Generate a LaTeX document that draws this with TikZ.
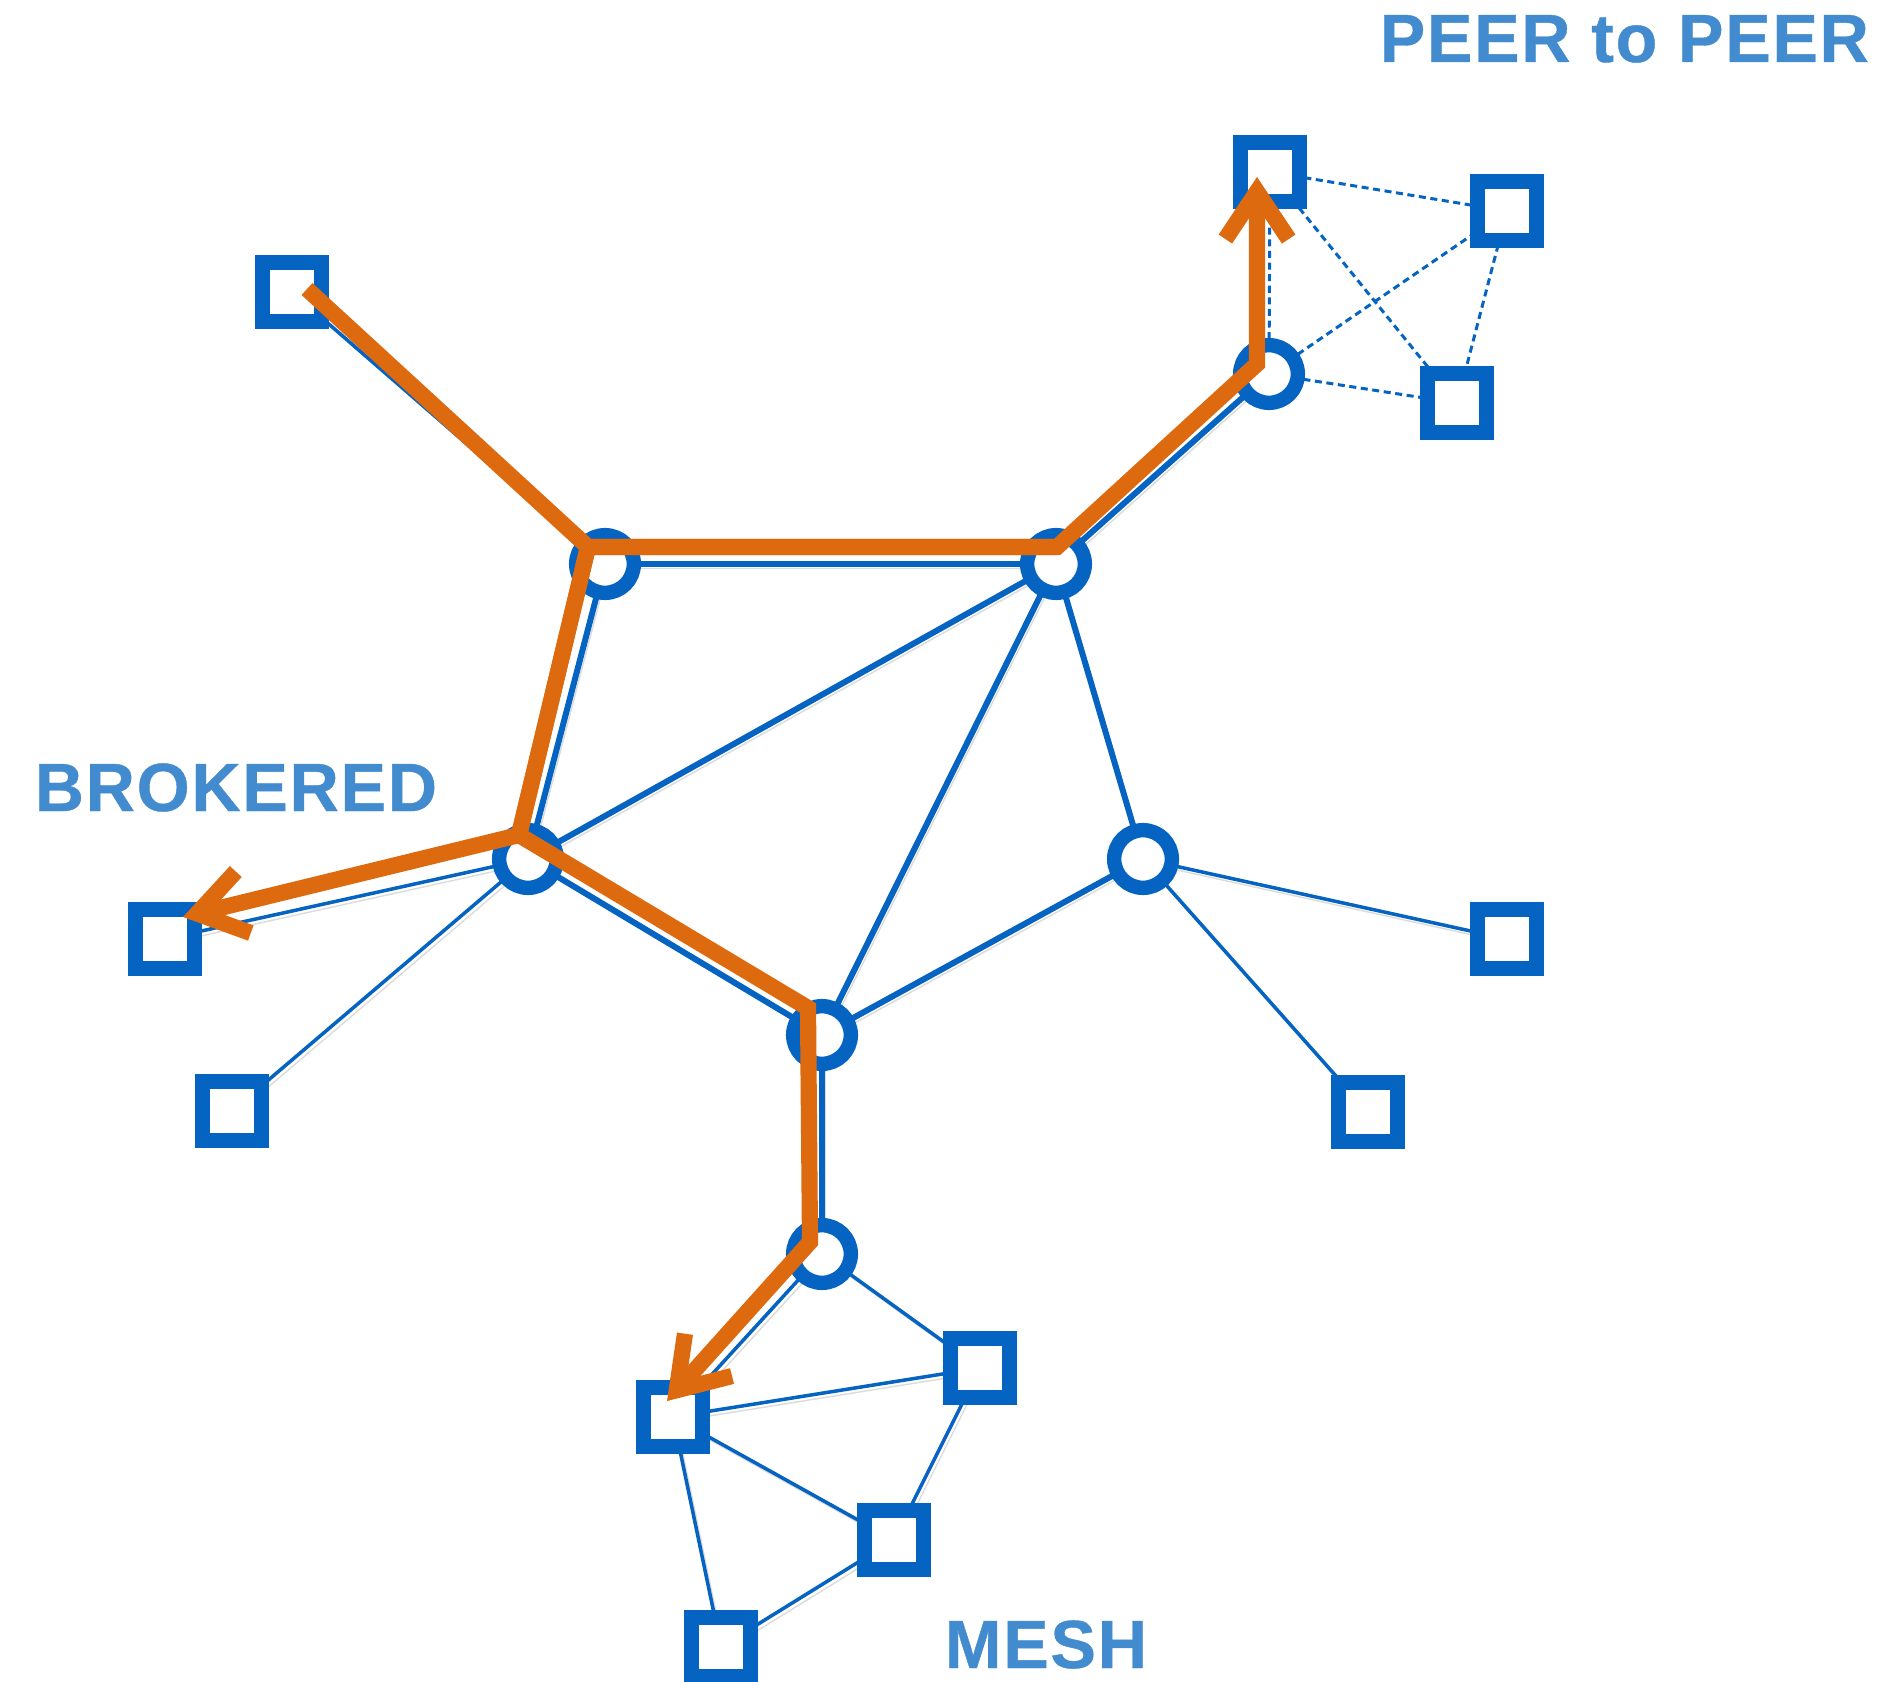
\documentclass[tikz,border=0pt]{standalone}
\usepackage{fontspec}
\setmainfont{Liberation Sans}
\usetikzlibrary{shapes.misc,arrows.meta,backgrounds}
\definecolor{nblue}{RGB}{5,99,193}
\definecolor{tblue}{RGB}{66,139,206}
\definecolor{npath}{RGB}{222,106,16}
\begin{document}
\begin{tikzpicture}[x=0.01cm,y=-0.01cm,
  hub/.style={circle,draw=nblue,line width=4.1pt,fill=white,minimum size=16.4pt,inner sep=0pt},
  peer/.style={chamfered rectangle,chamfered rectangle xsep=1.6pt,draw=nblue,line width=4.1pt,fill=white,minimum width=16.8pt,minimum height=16.8pt,inner sep=0pt},
  shade/.style={preaction={draw=black!14,transform canvas={shift={(0.9pt,-1.2pt)}}}},
  hubedge/.style={draw=nblue,line width=1.7pt,shade},
  leafedge/.style={draw=nblue,line width=1pt,shade},
  p2pedge/.style={draw=nblue,line width=0.85pt,dash pattern=on 2pt off 1.3pt},
  route/.style={draw=npath,line width=4.6pt,line join=miter},
  routearrow/.style={route,-{Straight Barb[length=13.5pt,width=18pt]}},
  lbl/.style={text=tblue,font=\fontsize{19.4pt}{22pt}\selectfont\bfseries\addfontfeature{FakeBold=0.6,LetterSpace=2.5},inner sep=0pt}]
\useasboundingbox (0,0) rectangle (1891,1682);
% hubs
\node[hub] (A) at (605,564) {};
\node[hub] (B) at (1056,564) {};
\node[hub] (C) at (528,859) {};
\node[hub] (D) at (1143,859) {};
\node[hub] (E) at (822,1035) {};
\node[hub] (F) at (822,1254) {};
\node[hub] (G) at (1269,374) {};
% squares
\node[peer] (S1) at (292,292) {};
\node[peer] (T1) at (1270,172) {};
\node[peer] (T2) at (1507,211) {};
\node[peer] (T3) at (1457,403) {};
\node[peer] (L1) at (165,939) {};
\node[peer] (L2) at (232,1111) {};
\node[peer] (R1) at (1507,939) {};
\node[peer] (R2) at (1368,1112) {};
\node[peer] (M1) at (673,1417) {};
\node[peer] (M2) at (980,1368) {};
\node[peer] (M3) at (894,1540) {};
\node[peer] (M4) at (721,1647) {};
% connectors
\begin{scope}[on background layer]
\draw[hubedge] (A.center) -- (B.center);
\draw[hubedge] (A.center) -- (C.center);
\draw[hubedge] (B.center) -- (C.center);
\draw[hubedge] (B.center) -- (E.center);
\draw[hubedge] (B.center) -- (D.center);
\draw[hubedge] (C.center) -- (E.center);
\draw[hubedge] (D.center) -- (E.center);
\draw[hubedge] (E.center) -- (F.center);
\draw[hubedge] (B.center) -- (G.center);
\draw[leafedge] (S1.center) -- (A.center);
\draw[leafedge] (C.center) -- (L1.center);
\draw[leafedge] (C.center) -- (L2.center);
\draw[leafedge] (D.center) -- (R1.center);
\draw[leafedge] (D.center) -- (R2.center);
\draw[leafedge] (F.center) -- (M1.center);
\draw[leafedge] (F.center) -- (M2.center);
\draw[leafedge] (M1.center) -- (M2.center);
\draw[leafedge] (M1.center) -- (M3.center);
\draw[leafedge] (M2.center) -- (M3.center);
\draw[leafedge] (M1.center) -- (M4.center);
\draw[leafedge] (M3.center) -- (M4.center);
\draw[p2pedge] (G.center) -- (T1.center);
\draw[p2pedge] (G.center) -- (T2.center);
\draw[p2pedge] (G.center) -- (T3.center);
\draw[p2pedge] (T1.center) -- (T2.center);
\draw[p2pedge] (T1.center) -- (T3.center);
\draw[p2pedge] (T2.center) -- (T3.center);
\end{scope}
% route
\coordinate (oS) at (307,289);
\coordinate (oA) at (588,547);
\coordinate (oB) at (1057,547);
\coordinate (oG) at (1257,364);
\coordinate (oT) at (1257,177);
\coordinate (oC) at (519,835);
\coordinate (oL) at (183,917);
\coordinate (oE) at (808,1008);
\coordinate (oF) at (810,1242);
\coordinate (oM) at (667,1401);
\draw[routearrow] (oS) -- (oA) -- (oB) -- (oG) -- (oT);
\draw[routearrow] (oB) -- (oA) -- (oC) -- (oL);
\draw[routearrow] (oA) -- (oC) -- (oE) -- (oF) -- (oM);
% labels
\node[lbl,anchor=base west] (tpeer) at (1379,62) {PEER to PEER};
\node[lbl,anchor=base west] (tbrok) at (34,811) {BROKERED};
\node[lbl,anchor=base west] (tmesh) at (944,1668) {MESH};
\end{tikzpicture}
\end{document}
